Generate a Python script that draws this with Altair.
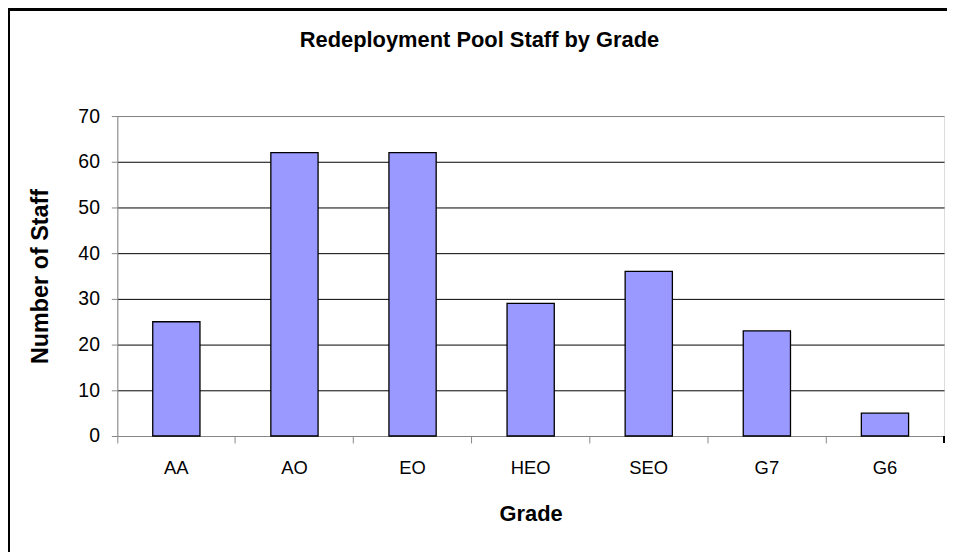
import altair as alt
import pandas as pd

grades = ["AA", "AO", "EO", "HEO", "SEO", "G7", "G6"]
staff = [25, 62, 62, 29, 36, 23, 5]
y_ticks = [0, 10, 20, 30, 40, 50, 60, 70]
title_text = "Redeployment Pool Staff by Grade"

df = pd.DataFrame({"Grade": grades, "Staff": staff})

W, H = 832, 322
FONT = "Liberation Sans"

base = alt.Chart(df)

bars = base.mark_bar(
    color="#9999FF", stroke="black", strokeWidth=1.3,
    width=alt.RelativeBandSize(0.4),
).encode(
    x=alt.X(
        "Grade:N", sort=grades,
        scale=alt.Scale(paddingInner=0, paddingOuter=0),
        axis=alt.Axis(
            title="Grade", bandPosition=0, tickSize=7, labelPadding=31,
            labelBaseline="alphabetic", labelAngle=0, labelFontSize=18.5,
            titleFontSize=22, titleFontWeight="bold",
            titleX=W / 2, titleY=85, titleBaseline="alphabetic", titleAlign="center",
            grid=False,
        ),
    ),
    y=alt.Y(
        "Staff:Q",
        scale=alt.Scale(domain=[0, 70], nice=False),
        axis=alt.Axis(
            title="Number of Staff", values=y_ticks, tickSize=6, labelPadding=12,
            labelFontSize=19.5, titleFontSize=23.5, titleFontWeight="bold",
            titleX=-70, titleY=H / 2, titleAngle=-90, titleBaseline="alphabetic",
            titleAlign="center", grid=True,
            gridColor={"condition": {"test": "datum.value === 70", "value": "#808080"}, "value": "black"},
        ),
    ),
)

end_tick = base.mark_rule(color="black", strokeWidth=1.3).encode(
    x=alt.value(W), y=alt.value(H), y2=alt.value(H + 7)
)

frame = base.mark_rect(filled=False, stroke="black", strokeWidth=2.6).encode(
    x=alt.value(-109.5), y=alt.value(-107), x2=alt.value(W + 300), y2=alt.value(H + 400)
)

title = alt.Chart(pd.DataFrame({"t": [title_text]})).mark_text(
    font=FONT, fontSize=22, fontWeight="bold", color="black",
    align="center", baseline="alphabetic",
).encode(text="t:N", x=alt.value(364.5), y=alt.value(-69))

chart = alt.layer(bars, end_tick, frame, title).properties(
    width=W, height=H,
    padding={"left": 110, "top": 107, "right": 3, "bottom": 115},
    autosize=alt.AutoSizeParams(type="none"),
).configure_view(
    stroke="#808080", strokeWidth=1.5,
).configure_axis(
    labelFont=FONT, titleFont=FONT, labelColor="black", titleColor="black",
    domainColor="black", domainWidth=1.5, tickColor="black", tickWidth=1.3,
    gridWidth=1.2,
).configure(background="white")

chart.save("out.html", embed_options={"renderer": "svg", "actions": False})
